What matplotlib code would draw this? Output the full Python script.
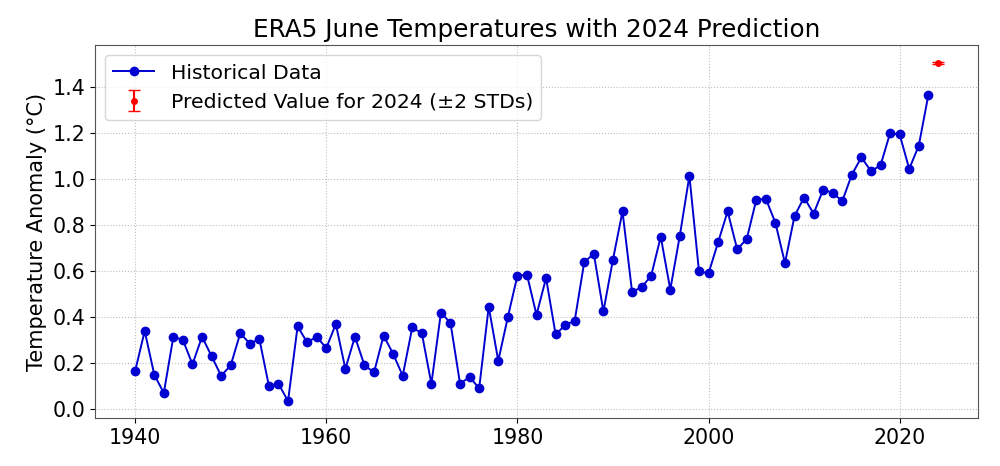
import numpy as np
import matplotlib
matplotlib.use('Agg')
import matplotlib.pyplot as plt

years = list(range(1940, 2024))
anomaly = [
    0.165, 0.34, 0.15, 0.07, 0.315, 0.30, 0.195, 0.315, 0.23, 0.145,
    0.19, 0.33, 0.285, 0.305, 0.10, 0.11, 0.035, 0.36, 0.29, 0.315,
    0.265, 0.37, 0.175, 0.315, 0.19, 0.16, 0.32, 0.24, 0.145, 0.355,
    0.33, 0.11, 0.42, 0.375, 0.11, 0.14, 0.09, 0.445, 0.21, 0.40,
    0.58, 0.585, 0.41, 0.57, 0.325, 0.365, 0.385, 0.64, 0.675, 0.425,
    0.65, 0.86, 0.51, 0.53, 0.58, 0.75, 0.52, 0.755, 1.015, 0.60,
    0.59, 0.725, 0.86, 0.695, 0.74, 0.91, 0.915, 0.81, 0.635, 0.84,
    0.92, 0.85, 0.955, 0.94, 0.905, 1.02, 1.095, 1.035, 1.06, 1.20,
    1.195, 1.045, 1.145, 1.365,
]
pred_year = 2024
pred_value = 1.505
pred_err = 0.004

fig, ax = plt.subplots(figsize=(10, 4.66), dpi=100)
fig.subplots_adjust(left=0.095, right=0.978, top=0.903, bottom=0.103)

ax.plot(years, anomaly, marker='o', color='#0000d0', markersize=6, linewidth=1.4,
        label='Historical Data')
ax.errorbar(pred_year, pred_value, yerr=pred_err, fmt='o', color='red', markersize=4,
            capsize=4, label='Predicted Value for 2024 (±2 STDs)')

ax.set_title('ERA5 June Temperatures with 2024 Prediction', fontsize=17.8)
ax.set_ylabel('Temperature Anomaly (°C)', fontsize=15)
ax.tick_params(labelsize=14.8)
ax.grid(True, linestyle=':', color='gray', alpha=0.5)
ax.legend(loc='upper left', fontsize=14.7)

for s in ax.spines.values():
    s.set_color('#555555')

fig.savefig('out.png')
